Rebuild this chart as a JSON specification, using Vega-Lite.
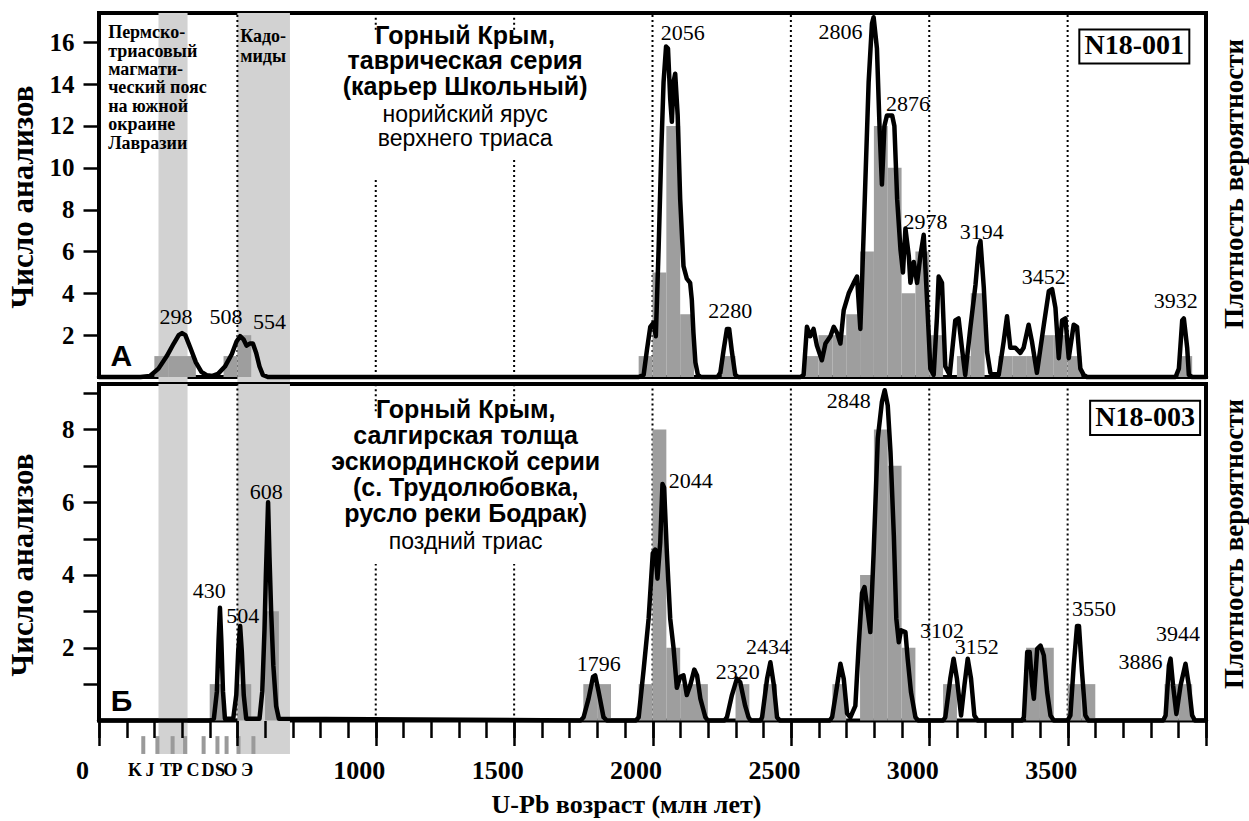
{
"$schema":"https://vega.github.io/schema/vega-lite/v6.json",
"padding":{"left":5,"top":10,"right":0,"bottom":5},
"background":"white",
"bounds":"flush",
"spacing":7,
"config":{"view":{"stroke":"black","strokeWidth":4},"font":"Liberation Serif"},
"datasets":{
"bands":[{"start":215,"end":320},{"start":500,"end":690}],
"histA":[{"start":200,"end":250,"n":1},{"start":250,"end":300,"n":1},{"start":300,"end":350,"n":1},{"start":450,"end":500,"n":1},{"start":500,"end":550,"n":2},{"start":1950,"end":2000,"n":1},{"start":2000,"end":2050,"n":5},{"start":2050,"end":2100,"n":12},{"start":2100,"end":2150,"n":3},{"start":2250,"end":2300,"n":1},{"start":2550,"end":2600,"n":1},{"start":2600,"end":2650,"n":2},{"start":2650,"end":2700,"n":2},{"start":2700,"end":2750,"n":3},{"start":2750,"end":2800,"n":6},{"start":2800,"end":2850,"n":12},{"start":2850,"end":2900,"n":10},{"start":2900,"end":2950,"n":4},{"start":2950,"end":3000,"n":6},{"start":3000,"end":3050,"n":2},{"start":3100,"end":3150,"n":1},{"start":3150,"end":3200,"n":4},{"start":3250,"end":3300,"n":1},{"start":3300,"end":3350,"n":1},{"start":3350,"end":3400,"n":1},{"start":3400,"end":3450,"n":2},{"start":3450,"end":3500,"n":2},{"start":3500,"end":3550,"n":1},{"start":3900,"end":3950,"n":1}],
"histB":[{"start":400,"end":450,"n":1},{"start":500,"end":550,"n":1},{"start":600,"end":650,"n":3},{"start":1750,"end":1800,"n":1},{"start":1800,"end":1850,"n":1},{"start":1950,"end":2000,"n":1},{"start":2000,"end":2050,"n":8},{"start":2050,"end":2100,"n":2},{"start":2100,"end":2150,"n":1},{"start":2150,"end":2200,"n":1},{"start":2300,"end":2350,"n":1},{"start":2400,"end":2450,"n":1},{"start":2650,"end":2700,"n":1},{"start":2750,"end":2800,"n":4},{"start":2800,"end":2850,"n":8},{"start":2850,"end":2900,"n":7},{"start":2900,"end":2950,"n":2},{"start":3050,"end":3100,"n":1},{"start":3350,"end":3400,"n":2},{"start":3400,"end":3450,"n":2},{"start":3500,"end":3550,"n":1},{"start":3550,"end":3600,"n":1},{"start":3850,"end":3900,"n":1},{"start":3900,"end":3950,"n":1}],
"pdpA":[{"a":0,"d":0},{"a":150,"d":0},{"a":184,"d":0.05},{"a":215,"d":0.4},{"a":245,"d":1.0},{"a":270,"d":1.6},{"a":288,"d":2.0},{"a":300,"d":2.1},{"a":312,"d":2.0},{"a":330,"d":1.4},{"a":350,"d":0.7},{"a":370,"d":0.25},{"a":390,"d":0.08},{"a":410,"d":0.05},{"a":430,"d":0.15},{"a":455,"d":0.5},{"a":480,"d":1.1},{"a":497,"d":1.7},{"a":510,"d":1.95},{"a":522,"d":1.8},{"a":533,"d":1.5},{"a":545,"d":1.6},{"a":556,"d":1.6},{"a":568,"d":1.15},{"a":580,"d":0.5},{"a":592,"d":0.1},{"a":610,"d":0},{"a":1950,"d":0},{"a":1968,"d":0.1},{"a":1980,"d":1.3},{"a":1992,"d":2.4},{"a":2004,"d":2.6},{"a":2012,"d":1.95},{"a":2022,"d":6.1},{"a":2032,"d":10.9},{"a":2040,"d":14.1},{"a":2049,"d":15.8},{"a":2056,"d":15.7},{"a":2064,"d":13.3},{"a":2070,"d":12.2},{"a":2076,"d":14.1},{"a":2082,"d":14.5},{"a":2091,"d":12.5},{"a":2100,"d":8.5},{"a":2112,"d":5.3},{"a":2124,"d":4.7},{"a":2136,"d":4.5},{"a":2142,"d":3.7},{"a":2148,"d":2.1},{"a":2155,"d":0.7},{"a":2164,"d":0.1},{"a":2175,"d":0},{"a":2235,"d":0},{"a":2245,"d":0.2},{"a":2257,"d":1.3},{"a":2269,"d":2.3},{"a":2277,"d":2.3},{"a":2287,"d":1.2},{"a":2299,"d":0.1},{"a":2310,"d":0},{"a":2535,"d":0},{"a":2546,"d":0.1},{"a":2558,"d":2.4},{"a":2570,"d":1.95},{"a":2582,"d":2.3},{"a":2594,"d":1.5},{"a":2612,"d":0.8},{"a":2625,"d":1.6},{"a":2643,"d":1.95},{"a":2655,"d":2.4},{"a":2667,"d":2.1},{"a":2679,"d":1.6},{"a":2691,"d":3.2},{"a":2709,"d":4.0},{"a":2727,"d":4.5},{"a":2739,"d":4.8},{"a":2751,"d":2.3},{"a":2757,"d":4.5},{"a":2769,"d":9.3},{"a":2781,"d":14.1},{"a":2793,"d":16.9},{"a":2799,"d":17.2},{"a":2811,"d":15.7},{"a":2821,"d":11.7},{"a":2829,"d":9.2},{"a":2838,"d":12.0},{"a":2847,"d":12.5},{"a":2866,"d":12.5},{"a":2874,"d":12.0},{"a":2884,"d":8.5},{"a":2896,"d":6.1},{"a":2905,"d":5.0},{"a":2914,"d":7.1},{"a":2926,"d":5.8},{"a":2932,"d":4.5},{"a":2944,"d":5.5},{"a":2956,"d":4.5},{"a":2968,"d":5.8},{"a":2980,"d":6.8},{"a":2992,"d":3.7},{"a":3004,"d":0.4},{"a":3016,"d":0.1},{"a":3028,"d":2.9},{"a":3034,"d":4.8},{"a":3046,"d":4.5},{"a":3058,"d":0.5},{"a":3074,"d":0.1},{"a":3094,"d":2.7},{"a":3106,"d":2.8},{"a":3118,"d":1.4},{"a":3130,"d":0.1},{"a":3148,"d":2.3},{"a":3167,"d":4.4},{"a":3179,"d":6.2},{"a":3185,"d":6.5},{"a":3197,"d":4.3},{"a":3209,"d":1.2},{"a":3221,"d":0.2},{"a":3251,"d":0.1},{"a":3269,"d":1.7},{"a":3281,"d":2.9},{"a":3293,"d":1.4},{"a":3311,"d":1.4},{"a":3329,"d":1.15},{"a":3341,"d":1.4},{"a":3359,"d":2.5},{"a":3371,"d":1.7},{"a":3389,"d":0.2},{"a":3414,"d":2.5},{"a":3432,"d":4.1},{"a":3444,"d":4.2},{"a":3456,"d":3.3},{"a":3468,"d":0.9},{"a":3480,"d":2.7},{"a":3492,"d":2.8},{"a":3504,"d":0.9},{"a":3522,"d":2.5},{"a":3534,"d":2.4},{"a":3546,"d":0.4},{"a":3558,"d":0.1},{"a":3570,"d":0},{"a":3890,"d":0},{"a":3902,"d":0.4},{"a":3914,"d":2.7},{"a":3920,"d":2.8},{"a":3932,"d":1.4},{"a":3938,"d":0.1},{"a":3950,"d":0},{"a":4000,"d":0}],
"pdpB":[{"a":0,"d":0},{"a":400,"d":0},{"a":415,"d":0.05},{"a":426,"d":0.8},{"a":432,"d":2.2},{"a":437,"d":3.1},{"a":442,"d":2.2},{"a":448,"d":0.8},{"a":455,"d":0.05},{"a":485,"d":0.05},{"a":496,"d":0.7},{"a":503,"d":1.9},{"a":510,"d":2.6},{"a":516,"d":1.9},{"a":523,"d":0.7},{"a":532,"d":0.05},{"a":580,"d":0.05},{"a":590,"d":0.8},{"a":598,"d":2.5},{"a":603,"d":4.0},{"a":607,"d":5.0},{"a":611,"d":6.0},{"a":616,"d":4.5},{"a":622,"d":3.0},{"a":630,"d":1.5},{"a":640,"d":0.4},{"a":650,"d":0.05},{"a":1740,"d":0},{"a":1751,"d":0.09},{"a":1769,"d":0.6},{"a":1785,"d":1.2},{"a":1793,"d":1.24},{"a":1805,"d":0.8},{"a":1823,"d":0.09},{"a":1835,"d":0},{"a":1940,"d":0},{"a":1950,"d":0.09},{"a":1968,"d":1.4},{"a":1986,"d":2.8},{"a":2001,"d":4.6},{"a":2010,"d":4.7},{"a":2018,"d":3.9},{"a":2028,"d":4.9},{"a":2036,"d":6.5},{"a":2042,"d":6.4},{"a":2052,"d":4.6},{"a":2064,"d":2.8},{"a":2076,"d":2.0},{"a":2088,"d":0.9},{"a":2100,"d":1.2},{"a":2112,"d":1.24},{"a":2124,"d":0.7},{"a":2136,"d":0.96},{"a":2151,"d":1.4},{"a":2161,"d":1.24},{"a":2173,"d":0.6},{"a":2191,"d":0.09},{"a":2200,"d":0},{"a":2260,"d":0},{"a":2269,"d":0.09},{"a":2287,"d":0.7},{"a":2305,"d":1.15},{"a":2317,"d":1.05},{"a":2335,"d":0.4},{"a":2347,"d":0.09},{"a":2355,"d":0},{"a":2390,"d":0},{"a":2396,"d":0.09},{"a":2414,"d":1.15},{"a":2426,"d":1.6},{"a":2438,"d":1.0},{"a":2450,"d":0.09},{"a":2460,"d":0},{"a":2640,"d":0},{"a":2649,"d":0.09},{"a":2667,"d":0.96},{"a":2679,"d":1.56},{"a":2691,"d":1.15},{"a":2703,"d":0.2},{"a":2715,"d":0.09},{"a":2733,"d":0.4},{"a":2745,"d":2.06},{"a":2757,"d":3.5},{"a":2766,"d":3.67},{"a":2778,"d":2.98},{"a":2787,"d":2.43},{"a":2799,"d":4.6},{"a":2814,"d":7.75},{"a":2829,"d":8.76},{"a":2839,"d":9.08},{"a":2850,"d":8.66},{"a":2860,"d":7.38},{"a":2872,"d":5.09},{"a":2881,"d":2.8},{"a":2890,"d":2.15},{"a":2898,"d":2.48},{"a":2914,"d":2.43},{"a":2922,"d":1.7},{"a":2934,"d":0.78},{"a":2950,"d":0.09},{"a":2960,"d":0},{"a":3050,"d":0},{"a":3058,"d":0.09},{"a":3076,"d":1.15},{"a":3088,"d":1.7},{"a":3100,"d":1.15},{"a":3115,"d":0.14},{"a":3127,"d":0.96},{"a":3139,"d":1.7},{"a":3151,"d":1.15},{"a":3163,"d":0.14},{"a":3175,"d":0},{"a":3335,"d":0},{"a":3342,"d":0.09},{"a":3354,"d":1.88},{"a":3363,"d":1.88},{"a":3372,"d":0.96},{"a":3378,"d":0.6},{"a":3390,"d":1.97},{"a":3402,"d":2.06},{"a":3414,"d":1.79},{"a":3426,"d":0.78},{"a":3438,"d":0.14},{"a":3450,"d":0},{"a":3500,"d":0},{"a":3510,"d":0.14},{"a":3522,"d":1.51},{"a":3534,"d":2.6},{"a":3541,"d":2.6},{"a":3552,"d":1.33},{"a":3564,"d":0.14},{"a":3575,"d":0},{"a":3845,"d":0},{"a":3854,"d":0.14},{"a":3866,"d":1.51},{"a":3872,"d":1.7},{"a":3881,"d":0.96},{"a":3893,"d":0.18},{"a":3908,"d":0.96},{"a":3926,"d":1.56},{"a":3938,"d":0.96},{"a":3950,"d":0.14},{"a":3960,"d":0},{"a":4000,"d":0}],
"dotsA":[{"age":500,"lo":0,"hi":17.4},{"age":1000,"lo":0,"hi":9.45},{"age":1000,"lo":16.6,"hi":17.4},{"age":1500,"lo":0,"hi":10.4},{"age":1500,"lo":16.6,"hi":17.4},{"age":2000,"lo":0,"hi":17.4},{"age":2500,"lo":0,"hi":17.4},{"age":3000,"lo":0,"hi":17.4},{"age":3500,"lo":0,"hi":17.4}],
"dotsB":[{"age":500,"lo":0,"hi":9.25},{"age":1000,"lo":0,"hi":4.3},{"age":1000,"lo":8.5,"hi":9.25},{"age":1500,"lo":0,"hi":4.3},{"age":1500,"lo":8.5,"hi":9.25},{"age":2000,"lo":0,"hi":9.25},{"age":2500,"lo":0,"hi":9.25},{"age":3000,"lo":0,"hi":9.25},{"age":3500,"lo":0,"hi":9.25}],
"peaksA":[{"text":"298","age":278,"y":2.53},{"text":"508","age":459,"y":2.53},{"text":"554","age":616,"y":2.29},{"text":"2056","age":2109,"y":16.13},{"text":"2280","age":2281,"y":2.82},{"text":"2806","age":2679,"y":16.18},{"text":"2876","age":2923,"y":12.7},{"text":"2978","age":2986,"y":7.06},{"text":"3194","age":3190,"y":6.59},{"text":"3452","age":3414,"y":4.44},{"text":"3932","age":3891,"y":3.29}],
"peaksB":[{"text":"430","age":398,"y":3.37},{"text":"504","age":519,"y":2.68},{"text":"608","age":604,"y":6.09},{"text":"1796","age":1806,"y":1.36},{"text":"2044","age":2138,"y":6.39},{"text":"2320","age":2308,"y":1.14},{"text":"2434","age":2417,"y":1.83},{"text":"2848","age":2709,"y":8.59},{"text":"3102","age":3046,"y":2.27},{"text":"3152","age":3172,"y":1.83},{"text":"3550","age":3595,"y":2.87},{"text":"3886","age":3763,"y":1.41},{"text":"3944","age":3899,"y":2.18}],
"headA":[{"text":"Горный Крым,","age":1323,"y":15.94,"kind":"b"},{"text":"таврическая серия","age":1323,"y":14.7,"kind":"b"},{"text":"(карьер Школьный)","age":1323,"y":13.46,"kind":"b"},{"text":"норийский ярус","age":1323,"y":12.2,"kind":"n"},{"text":"верхнего триаса","age":1323,"y":11.05,"kind":"n"}],
"headB":[{"text":"Горный Крым,","age":1325,"y":8.31,"kind":"b"},{"text":"салгирская толща","age":1325,"y":7.6,"kind":"b"},{"text":"эскиординской серии","age":1325,"y":6.88,"kind":"b"},{"text":"(с. Трудолюбовка,","age":1325,"y":6.17,"kind":"b"},{"text":"русло реки Бодрак)","age":1325,"y":5.46,"kind":"b"},{"text":"поздний триас","age":1325,"y":4.71,"kind":"n"}],
"regA":[{"text":"Пермско-","age":33,"y":16.2},{"text":"триасовый","age":33,"y":15.32},{"text":"магмати-","age":33,"y":14.44},{"text":"ческий пояс","age":33,"y":13.56},{"text":"на южной","age":33,"y":12.68},{"text":"окраине","age":33,"y":11.8},{"text":"Лавразии","age":33,"y":10.92},{"text":"Кадо-","age":510,"y":16.0},{"text":"миды","age":510,"y":15.05}],
"idA":[{"text":"N18-001","age":3741,"y":15.8}],
"idB":[{"text":"N18-003","age":3780,"y":8.32}],
"letA":[{"text":"А","age":81,"y":0.525}],
"letB":[{"text":"Б","age":81,"y":0.26}],
"periods":[{"age":160},{"age":211},{"age":266},{"age":311},{"age":378},{"age":428},{"age":461},{"age":504},{"age":558}],
"plabels":[{"text":"K","age":130},{"text":"J","age":184},{"text":"T","age":242},{"text":"P","age":282},{"text":"C","age":340},{"text":"D","age":394},{"text":"S","age":437},{"text":"O","age":474},{"text":"Э","age":535}]
},
"vconcat":[
{
"width":1107,"height":364,
"resolve":{"axis":{"y":"independent"}},
"layer":[
{"data":{"name":"bands"},"mark":{"type":"rect","fill":"#d2d2d2"},
 "encoding":{"x":{"field":"start","type":"quantitative","scale":{"domain":[0,4000],"nice":false,"zero":false},"axis":null},"x2":{"field":"end"},
 "y":{"datum":17.4,"type":"quantitative","scale":{"domain":[0,17.4],"nice":false,"zero":false},"axis":null},"y2":{"datum":-0.35}}},
{"data":{"name":"dotsA"},"mark":{"type":"rule","color":"black","strokeWidth":2,"strokeDash":[2,3]},
 "encoding":{"x":{"field":"age","type":"quantitative","axis":null},"y":{"field":"lo","type":"quantitative","axis":null},"y2":{"field":"hi"}}},
{"data":{"name":"histA"},"mark":{"type":"rect","fill":"#9e9e9e"},
 "encoding":{"x":{"field":"start","type":"quantitative","axis":null},"x2":{"field":"end"},
 "y":{"field":"n","type":"quantitative","axis":{"values":[2,4,6,8,10,12,14,16],"tickSize":16,"tickWidth":2.5,"tickColor":"black","domain":false,"grid":false,"labelFont":"Liberation Serif","labelFontWeight":"bold","labelFontSize":25,"labelColor":"black","labelPadding":9,"title":"Число анализов","titleFont":"Liberation Serif","titleFontSize":31,"titleFontWeight":"bold","titleColor":"black","titleX":-75.5,"titleY":183.5,"titleBaseline":"middle","titleAlign":"center","titleAngle":270}},"y2":{"datum":0}}},
{"data":{"name":"pdpA"},"mark":{"type":"line","color":"black","strokeWidth":4.5,"strokeJoin":"round","strokeCap":"round"},
 "encoding":{"x":{"field":"a","type":"quantitative","axis":null},
 "y":{"field":"d","type":"quantitative","axis":{"orient":"right","labels":false,"ticks":false,"domain":false,"grid":false,"title":"Плотность вероятности","titleFont":"Liberation Serif","titleFontSize":27,"titleFontWeight":"bold","titleColor":"black","titleAngle":270,"titleX":28,"titleY":170.5,"titleBaseline":"middle","titleAlign":"center"}}}},
{"data":{"name":"peaksA"},"mark":{"type":"text","font":"Liberation Serif","fontSize":22,"align":"center","baseline":"alphabetic","color":"black"},
 "encoding":{"x":{"field":"age","type":"quantitative","axis":null},"y":{"field":"y","type":"quantitative","axis":null},"text":{"field":"text"}}},
{"data":{"name":"headA"},"transform":[{"filter":"datum.kind === 'b'"}],"mark":{"type":"text","font":"Liberation Sans","fontWeight":"bold","fontSize":25,"align":"center","baseline":"alphabetic","color":"black"},
 "encoding":{"x":{"field":"age","type":"quantitative","axis":null},"y":{"field":"y","type":"quantitative","axis":null},"text":{"field":"text"}}},
{"data":{"name":"headA"},"transform":[{"filter":"datum.kind === 'n'"}],"mark":{"type":"text","font":"Liberation Sans","fontSize":23,"align":"center","baseline":"alphabetic","color":"black"},
 "encoding":{"x":{"field":"age","type":"quantitative","axis":null},"y":{"field":"y","type":"quantitative","axis":null},"text":{"field":"text"}}},
{"data":{"name":"regA"},"mark":{"type":"text","font":"Liberation Serif","fontWeight":"bold","fontSize":18,"align":"left","baseline":"alphabetic","color":"black"},
 "encoding":{"x":{"field":"age","type":"quantitative","axis":null},"y":{"field":"y","type":"quantitative","axis":null},"text":{"field":"text"}}},
{"data":{"name":"idA"},"mark":{"type":"point","shape":"M-1,-0.31L1,-0.31L1,0.31L-1,0.31Z","size":12100,"filled":true,"fill":"white","stroke":"black","strokeWidth":2,"opacity":1},
 "encoding":{"x":{"field":"age","type":"quantitative","axis":null},"y":{"field":"y","type":"quantitative","axis":null}}},
{"data":{"name":"idA"},"mark":{"type":"text","font":"Liberation Serif","fontWeight":"bold","fontSize":28,"align":"center","baseline":"middle","color":"black"},
 "encoding":{"x":{"field":"age","type":"quantitative","axis":null},"y":{"field":"y","type":"quantitative","axis":null},"text":{"field":"text"}}},
{"data":{"name":"letA"},"mark":{"type":"text","font":"Liberation Sans","fontWeight":"bold","fontSize":30,"align":"center","baseline":"alphabetic","color":"black"},
 "encoding":{"x":{"field":"age","type":"quantitative","axis":null},"y":{"field":"y","type":"quantitative","axis":null},"text":{"field":"text"}}}
]
},
{
"width":1107,"height":336.5,
"resolve":{"axis":{"y":"independent","x":"independent"}},
"layer":[
{"data":{"name":"bands"},"mark":{"type":"rect","fill":"#d2d2d2"},
 "encoding":{"x":{"field":"start","type":"quantitative","scale":{"domain":[0,4000],"nice":false,"zero":false},"axis":null},"x2":{"field":"end"},
 "y":{"datum":9.25,"type":"quantitative","scale":{"domain":[0,9.25],"nice":false,"zero":false},"axis":null},"y2":{"datum":-0.92}}},
{"data":{"name":"dotsB"},"mark":{"type":"rule","color":"black","strokeWidth":2,"strokeDash":[2,3]},
 "encoding":{"x":{"field":"age","type":"quantitative","axis":null},"y":{"field":"lo","type":"quantitative","axis":null},"y2":{"field":"hi"}}},
{"data":{"name":"periods"},"mark":{"type":"rule","color":"#9a9a9a","strokeWidth":4},
 "encoding":{"x":{"field":"age","type":"quantitative","axis":null},"y":{"datum":-0.43,"type":"quantitative","axis":null},"y2":{"datum":-0.92}}},
{"data":{"name":"plabels"},"mark":{"type":"text","font":"Liberation Serif","fontWeight":"bold","fontSize":18,"align":"center","baseline":"alphabetic","color":"black"},
 "encoding":{"x":{"field":"age","type":"quantitative","axis":null},"y":{"datum":-1.53,"type":"quantitative","axis":null},"text":{"field":"text"}}},
{"data":{"name":"histB"},"mark":{"type":"rect","fill":"#9e9e9e"},
 "encoding":{"x":{"field":"start","type":"quantitative","axis":{"orient":"bottom","values":[0,100,200,300,400,500,600,700,800,900,1000,1100,1200,1300,1400,1500,1600,1700,1800,1900,2000,2100,2200,2300,2400,2500,2600,2700,2800,2900,3000,3100,3200,3300,3400,3500,3600,3700,3800,3900,4000],"tickSize":17,"tickWidth":2.5,"tickColor":"black","domain":false,"grid":false,"labels":false,"title":null,"zindex":1}},"x2":{"field":"end"},
 "y":{"field":"n","type":"quantitative","axis":{"values":[1,2,3,4,5,6,7,8,9],"labelExpr":"datum.value % 2 === 0 ? datum.label : ''","tickSize":16,"tickWidth":2.5,"tickColor":"black","domain":false,"grid":false,"labelFont":"Liberation Serif","labelFontWeight":"bold","labelFontSize":25,"labelColor":"black","labelPadding":9,"title":"Число анализов","titleFont":"Liberation Serif","titleFontSize":31,"titleFontWeight":"bold","titleColor":"black","titleX":-75.5,"titleY":180.5,"titleBaseline":"middle","titleAlign":"center","titleAngle":270}},"y2":{"datum":0}}},
{"data":{"name":"pdpB"},"mark":{"type":"line","color":"black","strokeWidth":4.5,"strokeJoin":"round","strokeCap":"round"},
 "encoding":{"x":{"field":"a","type":"quantitative","axis":{"orient":"bottom","values":[0,500,1000,1500,2000,2500,3000,3500,4000],"format":"d","labelExpr":"datum.value == 500 || datum.value == 4000 ? '' : datum.label","tickSize":25,"tickWidth":2.5,"tickColor":"black","domain":false,"grid":false,"labelFont":"Liberation Serif","labelFontWeight":"bold","labelFontSize":26,"labelColor":"black","labelBaseline":"alphabetic","labelPadding":32.5,"labelOffset":-17,"labelOverlap":false,"labelFlush":false,"title":"U-Pb возраст (млн лет)","titleFont":"Liberation Serif","titleFontSize":26,"titleFontWeight":"bold","titleColor":"black","titleX":527,"titleY":91.5,"titleBaseline":"alphabetic","titleAlign":"center","zindex":1}},
 "y":{"field":"d","type":"quantitative","axis":{"orient":"right","labels":false,"ticks":false,"domain":false,"grid":false,"title":"Плотность вероятности","titleFont":"Liberation Serif","titleFontSize":27,"titleFontWeight":"bold","titleColor":"black","titleAngle":270,"titleX":28,"titleY":159.5,"titleBaseline":"middle","titleAlign":"center"}}}},
{"data":{"name":"peaksB"},"mark":{"type":"text","font":"Liberation Serif","fontSize":22,"align":"center","baseline":"alphabetic","color":"black"},
 "encoding":{"x":{"field":"age","type":"quantitative","axis":null},"y":{"field":"y","type":"quantitative","axis":null},"text":{"field":"text"}}},
{"data":{"name":"headB"},"transform":[{"filter":"datum.kind === 'b'"}],"mark":{"type":"text","font":"Liberation Sans","fontWeight":"bold","fontSize":25,"align":"center","baseline":"alphabetic","color":"black"},
 "encoding":{"x":{"field":"age","type":"quantitative","axis":null},"y":{"field":"y","type":"quantitative","axis":null},"text":{"field":"text"}}},
{"data":{"name":"headB"},"transform":[{"filter":"datum.kind === 'n'"}],"mark":{"type":"text","font":"Liberation Sans","fontSize":23,"align":"center","baseline":"alphabetic","color":"black"},
 "encoding":{"x":{"field":"age","type":"quantitative","axis":null},"y":{"field":"y","type":"quantitative","axis":null},"text":{"field":"text"}}},
{"data":{"name":"idB"},"mark":{"type":"point","shape":"M-1,-0.31L1,-0.31L1,0.31L-1,0.31Z","size":12100,"filled":true,"fill":"white","stroke":"black","strokeWidth":2,"opacity":1},
 "encoding":{"x":{"field":"age","type":"quantitative","axis":null},"y":{"field":"y","type":"quantitative","axis":null}}},
{"data":{"name":"idB"},"mark":{"type":"text","font":"Liberation Serif","fontWeight":"bold","fontSize":28,"align":"center","baseline":"middle","color":"black"},
 "encoding":{"x":{"field":"age","type":"quantitative","axis":null},"y":{"field":"y","type":"quantitative","axis":null},"text":{"field":"text"}}},
{"data":{"name":"letB"},"mark":{"type":"text","font":"Liberation Sans","fontWeight":"bold","fontSize":30,"align":"center","baseline":"alphabetic","color":"black"},
 "encoding":{"x":{"field":"age","type":"quantitative","axis":null},"y":{"field":"y","type":"quantitative","axis":null},"text":{"field":"text"}}}
]
}
]
}
